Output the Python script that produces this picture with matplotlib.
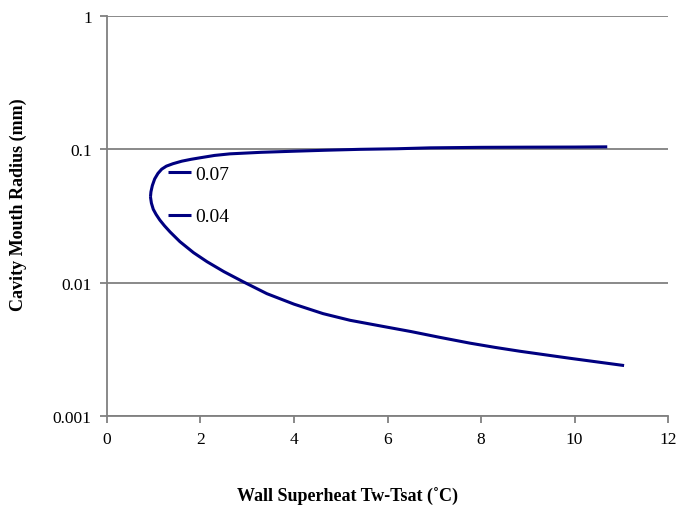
import matplotlib
matplotlib.use("Agg")
import matplotlib.pyplot as plt

# ---------- Donnees ----------
# branche haute (etiquette 0.07)
x_haut = [0.93, 0.94, 0.97, 1.02, 1.09, 1.17, 1.27, 1.41, 1.60, 1.80, 1.99, 2.30, 2.63, 3.30, 4.00, 4.70,
          5.41, 6.20, 6.91, 8.00, 9.00, 10.00, 10.70]
r_haut = [0.0440, 0.0480, 0.0535, 0.0600, 0.0660, 0.0710, 0.0748, 0.0780, 0.0815, 0.0842, 0.0864, 0.0900, 0.0925, 0.0950, 0.0968, 0.0985,
          0.1000, 0.1010, 0.1026, 0.1035, 0.1038, 0.1040, 0.1044]

# branche basse (etiquette 0.04)
x_bas = [0.93, 0.95, 0.99, 1.05, 1.13, 1.23, 1.35, 1.56, 1.85, 2.14, 2.50, 2.91, 3.42, 4.00, 4.62,
         5.20, 5.90, 6.50, 7.10, 7.76, 8.30, 8.83, 9.90, 11.06]
r_bas = [0.0440, 0.0395, 0.0355, 0.0325, 0.0295, 0.0267, 0.0240, 0.0203, 0.0168, 0.01436, 0.0121, 0.01017, 0.00827, 0.00690, 0.00586,
         0.00522, 0.00470, 0.00430, 0.00390, 0.00352, 0.00327, 0.00306, 0.00271, 0.00239]

x_ticks = [0, 2, 4, 6, 8, 10, 12]
y_ticks = [0.001, 0.01, 0.1, 1]
y_tick_labels = ["0.001", "0.01", "0.1", "1"]

plt.rcParams["font.family"] = ["Liberation Serif", "DejaVu Serif"]

fig = plt.figure(figsize=(6.78, 5.06), dpi=100)
ax = fig.add_axes([0.1578, 0.1759, 0.8275, 0.7905])

bleu = "#000080"
ax.plot(x_haut, r_haut, color=bleu, linewidth=2.2, label="0.07", solid_capstyle="butt", solid_joinstyle="round")
ax.plot(x_bas, r_bas, color=bleu, linewidth=2.2, label="0.04", solid_capstyle="butt", solid_joinstyle="round")

ax.set_yscale("log")
ax.set_xlim(0, 12)
ax.set_ylim(0.001, 1)
ax.set_xticks(x_ticks)
ax.set_xticklabels([str(v) for v in x_ticks])
ax.set_yticks(y_ticks)
ax.set_yticklabels(y_tick_labels)
ax.minorticks_off()

# grille horizontale grise
ax.yaxis.grid(True, color="#808080", linewidth=1.3)
ax.set_axisbelow(True)
for s in ["top", "right"]:
    ax.spines[s].set_visible(False)
for s in ["left", "bottom"]:
    ax.spines[s].set_color("#808080")
    ax.spines[s].set_linewidth(1.3)
ax.tick_params(axis="both", direction="out", color="#808080", width=1.3, length=5,
               labelsize=12.5, pad=6)

ax.set_xlabel("Wall Superheat Tw-Tsat (\u02daC)", fontsize=13, fontweight="bold")
ax.xaxis.set_label_coords(0.4287, -0.1775)
ax.set_ylabel("Cavity Mouth Radius (mm)", fontsize=13, fontweight="bold")
ax.yaxis.set_label_coords(-0.1426, 0.53)

ax.legend(loc="center left", bbox_to_anchor=(0.109, 0.552), frameon=False, fontsize=14,
          handlelength=1.2, handletextpad=0.2, labelspacing=1.3, borderpad=0, borderaxespad=0)

fig.savefig("out.png", dpi=100)
